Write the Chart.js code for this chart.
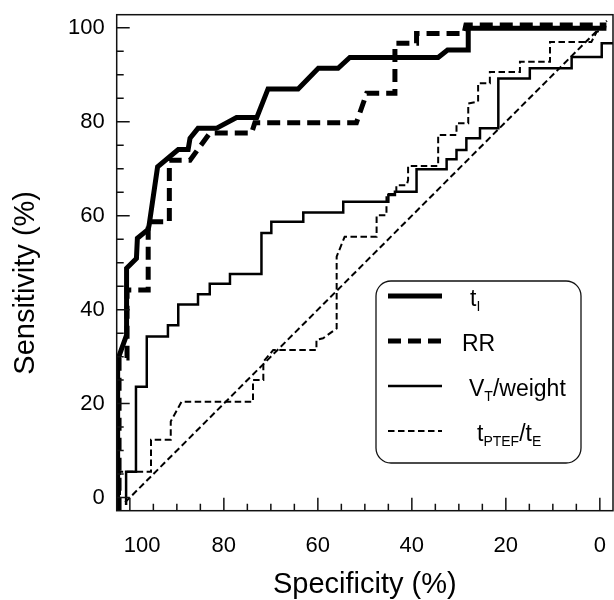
<!DOCTYPE html>
<html>
<head>
<meta charset="utf-8">
<title>ROC curves</title>
<script src="https://cdn.jsdelivr.net/npm/chart.js@4.4.0/dist/chart.umd.min.js"></script>
<style>
  html, body { margin: 0; padding: 0; background: #fff; }
  #wrap { width: 614px; height: 600px; }
</style>
</head>
<body>
<div id="wrap"><canvas id="rocChart" width="614" height="600"></canvas></div>
<script>
// axis ticks (%)
const specTicks = [100, 80, 60, 40, 20, 0];
const sensTicks = [0, 20, 40, 60, 80, 100];

// series names, _{..} = subscript
const seriesNames = ['t_{I}', 'RR', 'V_{T}/weight', 't_{PTEF}/t_{E}'];

// t_I : specificity / sensitivity corners of the ROC curve
const tiSpec = [102.6, 102.6, 100.7, 100.7, 98.6, 98.4, 96.1, 95.9, 94.1, 89.7, 87.6, 87.2, 85.5, 81.6, 77.3, 73.0, 70.6, 64.2, 59.9, 55.7, 53.2, 34.4, 32.4, 28.0, 28.0, -1.4];
const tiSens = [-2.8, 29.3, 34.6, 48.8, 50.9, 55.2, 57.1, 58.0, 70.4, 74.1, 74.1, 76.5, 78.6, 78.6, 80.9, 80.9, 87.0, 87.0, 91.4, 91.4, 93.7, 93.7, 95.3, 95.3, 99.9, 99.9];

// RR
const rrSpec = [102.3, 102.3, 100.6, 100.6, 96.1, 96.1, 91.6, 91.6, 87.2, 85.1, 83.0, 74.1, 73.4, 51.8, 49.6, 43.6, 43.6, 39.0, 39.0, 28.9, 28.5, -1.4];
const rrSens = [-2.8, 29.7, 29.7, 44.2, 44.2, 58.7, 58.7, 71.8, 71.8, 74.7, 77.6, 77.6, 79.8, 79.8, 86.1, 86.1, 96.7, 96.7, 98.8, 98.8, 100.6, 100.6];

// V_T / weight
const vtSpec = [100.8, 100.8, 98.7, 98.7, 96.4, 96.4, 91.9, 91.9, 89.7, 89.7, 85.5, 85.5, 83.0, 83.0, 78.7, 78.7, 72.0, 72.0, 69.9, 69.9, 63.1, 63.1, 54.6, 54.6, 45.0, 45.0, 43.6, 43.6, 39.0, 39.0, 32.6, 32.6, 30.5, 30.5, 28.4, 28.4, 25.5, 25.5, 21.6, 21.6, 14.9, 14.9, 6.0, 6.0, -0.4, -0.4, -2.8];
const vtSens = [-1.6, 5.5, 5.5, 23.6, 23.6, 34.3, 34.3, 36.7, 36.7, 41.1, 41.1, 43.3, 43.3, 45.5, 45.5, 47.6, 47.6, 56.3, 56.3, 58.7, 58.7, 60.7, 60.7, 63.0, 63.0, 64.4, 64.4, 65.1, 65.1, 69.9, 69.9, 72.0, 72.0, 74.0, 74.0, 76.5, 76.5, 78.6, 78.6, 89.2, 89.2, 91.4, 91.4, 93.8, 93.8, 96.7, 96.7];

// t_PTEF / t_E
const teSpec = [102.1, 102.1, 95.5, 95.5, 91.3, 91.3, 89.0, 73.8, 73.8, 71.6, 71.6, 69.5, 60.3, 60.3, 58.9, 56.0, 56.0, 54.3, 47.5, 47.5, 45.4, 45.4, 43.3, 43.3, 41.1, 40.8, 40.8, 34.4, 34.4, 30.5, 30.5, 28.0, 28.0, 25.9, 25.9, 23.4, 23.4, 17.0, 17.0, 10.6, 10.6, 1.8, 0.7, -1.3];
const teSens = [-1.6, 5.5, 5.5, 12.3, 12.3, 16.2, 20.4, 20.4, 25.0, 25.0, 28.9, 31.4, 31.4, 33.6, 33.9, 36.0, 51.3, 55.5, 55.5, 60.1, 60.1, 64.6, 64.6, 66.5, 66.5, 67.6, 70.6, 70.6, 77.2, 77.2, 79.7, 79.7, 83.9, 84.3, 88.2, 88.2, 90.6, 90.6, 92.8, 92.8, 97.0, 97.0, 99.1, 100.1];

// line of no discrimination
const diagSpec = [101, -1.5];
const diagSens = [-1, 101.5];

const FONT = "'Liberation Sans', Arial, Helvetica, sans-serif";

function toPoints(xs, ys) {
  return xs.map((x, i) => ({ x: x, y: ys[i] }));
}

// split 'V_{T}/weight' into normal / subscript pieces
function parseLabel(str) {
  const parts = [];
  const re = /_\{([^}]*)\}/g;
  let last = 0, m;
  while ((m = re.exec(str)) !== null) {
    if (m.index > last) parts.push({ text: str.slice(last, m.index), sub: false });
    parts.push({ text: m[1], sub: true });
    last = re.lastIndex;
  }
  if (last < str.length) parts.push({ text: str.slice(last), sub: false });
  return parts;
}

// keep the plot box fixed: no extra room for the end tick labels
function fixPadding(s) {
  s.paddingTop = 0;
  s.paddingBottom = 0;
  s.paddingLeft = 0;
  s.paddingRight = 0;
}

// frame + inward ticks
const framePlugin = {
  id: 'frame',
  afterDraw(chart) {
    const ctx = chart.ctx;
    const a = chart.chartArea;
    const xs = chart.scales.x, ys = chart.scales.y;
    ctx.save();
    ctx.strokeStyle = '#111';
    ctx.lineWidth = 1.5;
    ctx.setLineDash([]);
    ctx.strokeRect(a.left, a.top, a.right - a.left, a.bottom - a.top);
    ctx.beginPath();
    for (let v = 0; v <= 100; v += 5) {
      const len = v % 20 === 0 ? 13 : 7;
      const px = xs.getPixelForValue(v);
      ctx.moveTo(px, a.bottom);
      ctx.lineTo(px, a.bottom - len);
      const py = ys.getPixelForValue(v);
      ctx.moveTo(a.left, py);
      ctx.lineTo(a.left + len, py);
    }
    ctx.stroke();
    ctx.restore();
  }
};

// boxed legend with subscripts
const legendPlugin = {
  id: 'subLegend',
  afterDraw(chart, args, opts) {
    const ctx = chart.ctx;
    const b = opts.box;
    const r = b.radius;
    ctx.save();
    ctx.strokeStyle = '#111';
    ctx.lineWidth = 1.3;
    ctx.setLineDash([]);
    ctx.beginPath();
    ctx.moveTo(b.left + r, b.top);
    ctx.lineTo(b.right - r, b.top);
    ctx.arcTo(b.right, b.top, b.right, b.top + r, r);
    ctx.lineTo(b.right, b.bottom - r);
    ctx.arcTo(b.right, b.bottom, b.right - r, b.bottom, r);
    ctx.lineTo(b.left + r, b.bottom);
    ctx.arcTo(b.left, b.bottom, b.left, b.bottom - r, r);
    ctx.lineTo(b.left, b.top + r);
    ctx.arcTo(b.left, b.top, b.left + r, b.top, r);
    ctx.closePath();
    ctx.fillStyle = '#fff';
    ctx.fill();
    ctx.stroke();

    seriesNames.forEach((name, i) => {
      const ds = chart.data.datasets[i];
      const y = opts.rows[i];
      ctx.beginPath();
      ctx.strokeStyle = ds.borderColor;
      ctx.lineWidth = ds.borderWidth;
      ctx.setLineDash(ds.borderDash || []);
      ctx.moveTo(opts.sampleX[0], y);
      ctx.lineTo(opts.sampleX[1], y);
      ctx.stroke();

      let x = opts.textX[i];
      const base = y + 10;
      ctx.fillStyle = '#000';
      ctx.textAlign = 'left';
      ctx.textBaseline = 'alphabetic';
      parseLabel(name).forEach(p => {
        ctx.font = (p.sub ? '14px ' : '23px ') + FONT;
        ctx.fillText(p.text, x, p.sub ? base + 5 : base);
        x += ctx.measureText(p.text).width;
      });
    });
    ctx.restore();
  }
};

Chart.defaults.font.family = FONT;
Chart.defaults.color = '#000';

new Chart(document.getElementById('rocChart'), {
  type: 'line',
  data: {
    datasets: [
      { label: 't_I', data: toPoints(tiSpec, tiSens), borderColor: '#000', borderWidth: 5, borderDash: [] },
      { label: 'RR', data: toPoints(rrSpec, rrSens), borderColor: '#000', borderWidth: 5, borderDash: [13, 7] },
      { label: 'V_T/weight', data: toPoints(vtSpec, vtSens), borderColor: '#000', borderWidth: 2.5, borderDash: [] },
      { label: 't_PTEF/t_E', data: toPoints(teSpec, teSens), borderColor: '#000', borderWidth: 2, borderDash: [6.5, 3.5] },
      { label: 'reference', data: toPoints(diagSpec, diagSens), borderColor: '#000', borderWidth: 2, borderDash: [6.5, 3.5] }
    ]
  },
  options: {
    responsive: false,
    animation: false,
    events: [],
    layout: { padding: { top: 14.7, right: 1, bottom: 0, left: 0 } },
    elements: {
      point: { radius: 0 },
      line: { tension: 0, fill: false, borderJoinStyle: 'miter', borderCapStyle: 'butt' }
    },
    scales: {
      x: {
        type: 'linear',
        reverse: true,
        min: -2.8,
        max: 102.8,
        grid: { display: false, drawTicks: false },
        border: { display: false },
        afterBuildTicks: s => { s.ticks = specTicks.map(v => ({ value: v })); },
        afterFit: s => { s.height = 89.3; fixPadding(s); },
        ticks: {
          padding: 22,
          font: { size: 22 },
          maxRotation: 0,
          callback: v => (v === 100 ? '    100' : String(v))
        },
        title: {
          display: true,
          text: 'Specificity (%)',
          font: { size: 29, lineHeight: 1 },
          padding: { top: 0, bottom: 1 }
        }
      },
      y: {
        type: 'linear',
        min: -2.8,
        max: 102.8,
        grid: { display: false, drawTicks: false },
        border: { display: false },
        afterBuildTicks: s => { s.ticks = sensTicks.map(v => ({ value: v })); },
        afterFit: s => { s.width = 116.7; fixPadding(s); },
        ticks: { padding: 12, font: { size: 22 } },
        title: {
          display: true,
          text: 'Sensitivity (%)     ',
          font: { size: 29, lineHeight: 1 },
          padding: { top: 11, bottom: 0 }
        }
      }
    },
    plugins: {
      legend: { display: false },
      tooltip: { enabled: false },
      subLegend: {
        box: { left: 376, top: 281, right: 581, bottom: 463, radius: 15 },
        rows: [296, 341, 386, 431],
        sampleX: [388, 442],
        textX: [470, 462, 469, 477]
      }
    }
  },
  plugins: [framePlugin, legendPlugin]
});
</script>
</body>
</html>
